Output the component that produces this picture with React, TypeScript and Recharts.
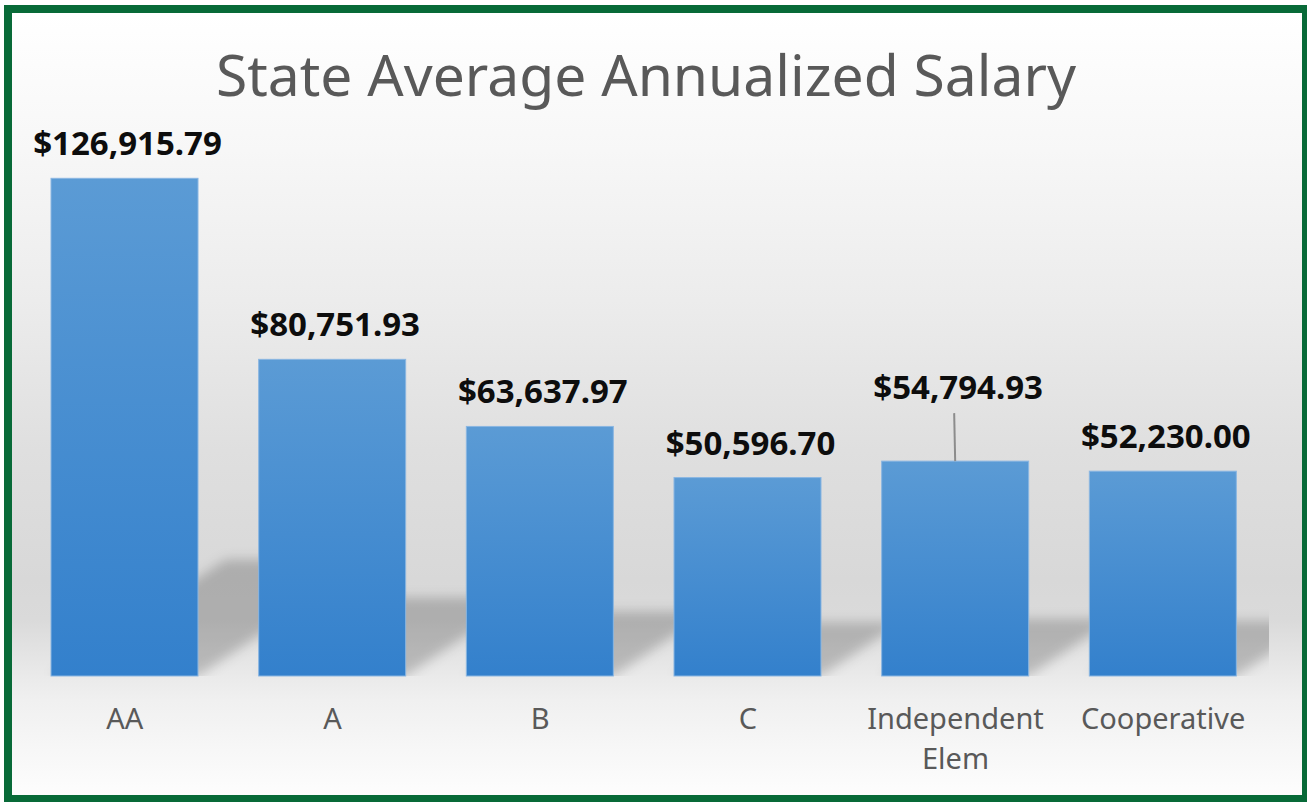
import React from "react"
import { Bar, BarChart, LabelList, XAxis, YAxis } from "recharts"

const categories = ["AA", "A", "B", "C", "Independent Elem", "Cooperative"]
const salaries = [126915.79, 80751.93, 63637.97, 50596.7, 54794.93, 52230.0]
const yDomain = [0, 140000]
const liftedCategory = "Independent Elem"

const data = categories.map((name, i) => ({ name, salary: salaries[i] }))

const W = 1307
const H = 802
const margin = { top: 127, right: 40, bottom: 66, left: 21 }
const xAxisHeight = 60
const plotBottom = H - margin.bottom - xAxisHeight
const plotRight = W - margin.right + 2

const font = "'Noto Sans', 'Open Sans', sans-serif"

const money = (v: number) =>
    "$" + v.toLocaleString("en-US", { minimumFractionDigits: 2, maximumFractionDigits: 2 })

// bar with a squashed, blurred "perspective" shadow lying behind it
function ShadowBar(props: any) {
    const { x, y, width, height } = props
    const base = y + height
    const sh = 12 + 0.21 * height
    const dx = sh * 1.5
    return (
        <g>
            <polygon
                points={`${x},${base} ${x + width},${base} ${x + width + dx},${base - sh} ${x + dx},${base - sh}`}
                fill="#000"
                fillOpacity={0.2}
                filter="url(#shadowBlur)"
                clipPath="url(#floorClip)"
            />
            <rect x={x} y={y} width={width} height={height} fill="url(#barFill)" stroke="#8ab6e2" strokeWidth={1} />
        </g>
    )
}

function ValueLabel(props: any) {
    const { x, y, width, value, index } = props
    const cx = x + width / 2
    const lifted = categories[index] === liftedCategory
    const baseline = lifted ? y - 62 : y - 23
    return (
        <g>
            {lifted && <line x1={cx} y1={y} x2={cx - 1} y2={y - 48} stroke="#8c8c8c" strokeWidth={2} />}
            <text
                x={cx + 3}
                y={baseline}
                textAnchor="middle"
                fontFamily={font}
                fontWeight={700}
                fontSize={33}
                fill="#0d0d0d"
            >
                {money(value)}
            </text>
        </g>
    )
}

function CategoryTick(props: any) {
    const { x, y, payload } = props
    const words = String(payload.value).split(" ")
    const lines: string[] = []
    words.forEach((w) => {
        const last = lines[lines.length - 1]
        if (last && (last + " " + w).length <= 12) lines[lines.length - 1] = last + " " + w
        else lines.push(w)
    })
    return (
        <text x={x} y={y} textAnchor="middle" fontFamily={font} fontSize={29} fill="#595959">
            {lines.map((l, i) => (
                <tspan key={i} x={x} dy={i === 0 ? 53 : 40}>
                    {l}
                </tspan>
            ))}
        </text>
    )
}

export default function App() {
    return (
        <div style={{ position: "absolute", left: 0, top: 0, width: W, height: H, overflow: "hidden", background: "#fff" }}>
            <div
                style={{
                    position: "absolute",
                    left: 4,
                    top: 5,
                    width: 1306,
                    height: 798,
                    boxSizing: "border-box",
                    border: "8px solid #086a38",
                    background:
                        "linear-gradient(to bottom, #ffffff 0%, #f7f7f7 17.5%, #ececec 36.7%, #dfdfdf 55.9%, #d8d8d8 72.5%, #dadada 77.6%, #eaeaea 84.8%, #f0f0f0 87.9%, #fdfdfd 100%)",
                }}
            />
            <svg width={W} height={H} style={{ position: "absolute", left: 0, top: 0 }}>
                <text x={646} y={96} textAnchor="middle" fontFamily={font} fontSize={57} fill="#595959">
                    State Average Annualized Salary
                </text>
            </svg>
            <div style={{ position: "absolute", left: 0, top: 0 }}>
                <BarChart width={W} height={H} data={data} margin={margin}>
                    <defs>
                        <linearGradient id="barFill" x1="0" y1="0" x2="0" y2="1">
                            <stop offset="0%" stopColor="#5b9bd5" />
                            <stop offset="100%" stopColor="#3380cc" />
                        </linearGradient>
                        <filter id="shadowBlur" x="-50%" y="-50%" width="200%" height="200%">
                            <feGaussianBlur stdDeviation="6" />
                        </filter>
                        <clipPath id="floorClip">
                            <rect x={0} y={0} width={plotRight} height={plotBottom} />
                        </clipPath>
                    </defs>
                    <XAxis
                        dataKey="name"
                        height={xAxisHeight}
                        axisLine={false}
                        tickLine={false}
                        tickSize={0}
                        tickMargin={0}
                        interval={0}
                        tick={<CategoryTick />}
                    />
                    <YAxis hide domain={yDomain} />
                    <Bar dataKey="salary" barSize={147} shape={<ShadowBar />} isAnimationActive={false}>
                        <LabelList dataKey="salary" content={<ValueLabel />} />
                    </Bar>
                </BarChart>
            </div>
        </div>
    )
}
